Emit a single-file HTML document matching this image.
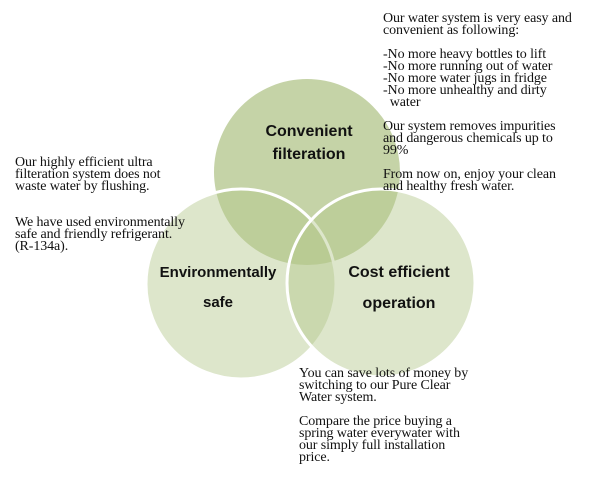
<!DOCTYPE html>
<html><head><meta charset="utf-8"><style>
html,body{margin:0;padding:0;background:#fff}
body{width:600px;height:480px;position:relative;overflow:hidden}
.t{position:absolute;font-family:"Liberation Serif",serif;font-size:14px;line-height:12px;color:#111;white-space:pre;letter-spacing:-0.1px}
.l{position:absolute;font-family:"Liberation Sans",sans-serif;font-weight:bold;font-size:15px;color:#111;text-align:center;transform:translateX(-50%);white-space:nowrap}
</style></head><body>
<svg width="600" height="480" style="position:absolute;left:0;top:0">
<circle cx="307" cy="172" r="93" fill="rgb(197,211,167)"/>
<circle cx="241" cy="284" r="95" fill="rgba(180,200,140,0.45)" stroke="#fff" stroke-width="3"/>
<circle cx="381" cy="283" r="94" fill="rgba(180,200,140,0.45)" stroke="#fff" stroke-width="3"/>
</svg>
<div class="t" style="left:383px;top:13px">Our water system is very easy and
convenient as following:

-No more heavy bottles to lift
-No more running out of water
-No more water jugs in fridge
-No more unhealthy and dirty
  water

Our system removes impurities
and dangerous chemicals up to
99%

From now on, enjoy your clean
and healthy fresh water.</div>
<div class="t" style="left:15px;top:157px">Our highly efficient ultra
filteration system does not
waste water by flushing.


We have used environmentally
safe and friendly refrigerant.
(R-134a).</div>
<div class="t" style="left:299px;top:368px">You can save lots of money by
switching to our Pure Clear
Water system.

Compare the price buying a
spring water everywater with
our simply full installation
price.</div>
<div class="l" style="left:309px;top:123px;font-size:16px">Convenient</div>
<div class="l" style="left:309px;top:146px;font-size:16px">filteration</div>
<div class="l" style="left:218px;top:264px">Environmentally</div>
<div class="l" style="left:218px;top:294px">safe</div>
<div class="l" style="left:399px;top:264px;font-size:16px">Cost efficient</div>
<div class="l" style="left:399px;top:295px;font-size:16px">operation</div>
</body></html>
